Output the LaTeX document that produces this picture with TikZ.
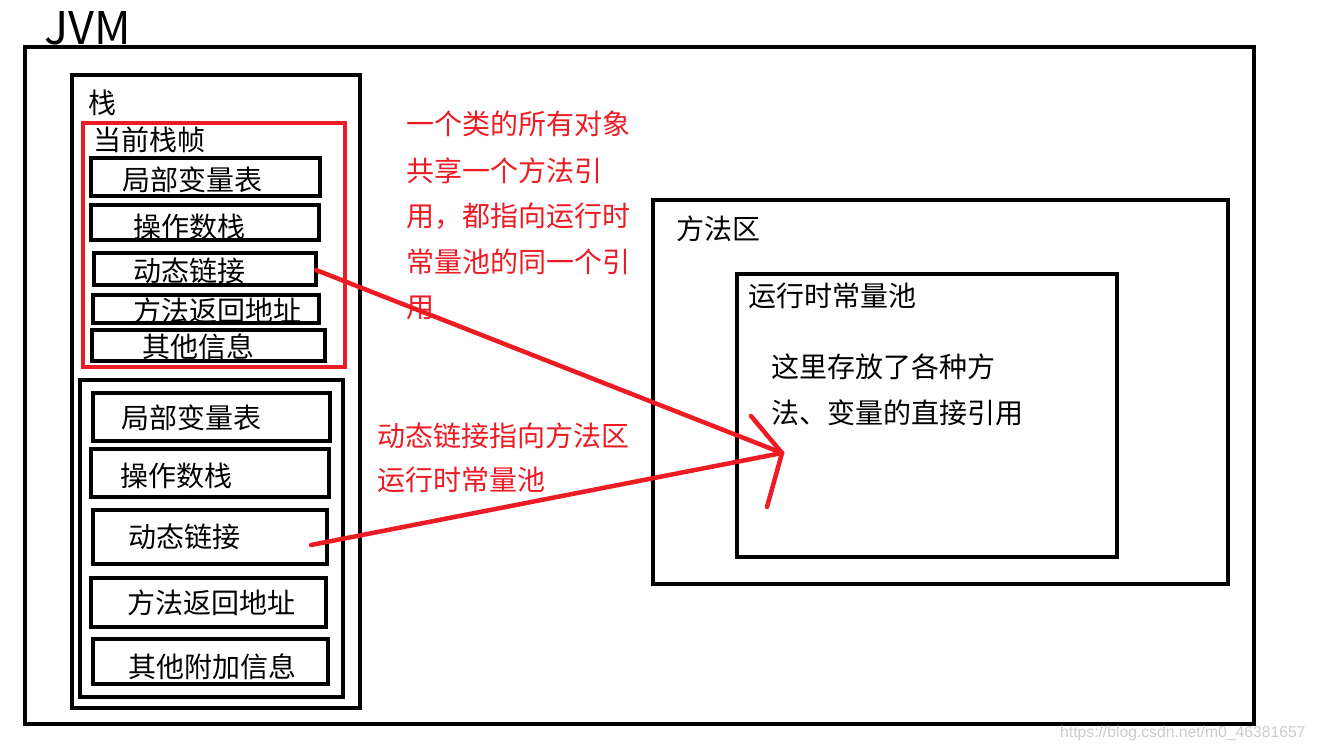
\documentclass[tikz,border=0pt]{standalone}
\usepackage{fontspec}
\setmainfont{Noto Sans CJK SC}
\newfontfamily\wmfont{Liberation Sans}
\definecolor{pred}{HTML}{ED1C24}
\begin{document}
\begin{tikzpicture}[x=1pt,y=-1pt,
  box/.style={draw=black, line width=4pt, inner sep=0pt, outer sep=0pt, anchor=north west},
  redbox/.style={box, draw=pred},
  lbl/.style={anchor=west, inner sep=0pt, font=\fontsize{28}{30}\selectfont},
  note/.style={lbl, text=pred},
  conn/.style={draw=pred, line width=4.5pt, line cap=round}]
\useasboundingbox (0,0) rectangle (1317,751);
\fill[white] (0,0) rectangle (1317,751);
% outer
\node[box, minimum width=1229pt, minimum height=677pt] (jvm) at (25,47) {};
\node[anchor=base west, inner sep=0pt, font=\fontsize{45}{50}\selectfont] (jvmt) at (44,45) {JVM};
% stack
\node[box, minimum width=288pt, minimum height=633pt] (stack) at (72,75) {};
\node[lbl] (stackt) at (88,103) {栈};
% current frame
\node[redbox, minimum width=262pt, minimum height=244pt] (cur) at (83,123) {};
\node[lbl] (curt) at (93,140) {当前栈帧};
\node[box, minimum width=229pt, minimum height=38pt] (c1) at (91,158) {};
\node[box, minimum width=228pt, minimum height=35pt] (c2) at (91,205) {};
\node[box, minimum width=222pt, minimum height=32pt] (c3) at (94,253) {};
\node[box, minimum width=226pt, minimum height=28pt] (c4) at (93,295) {};
\node[box, minimum width=233pt, minimum height=31pt] (c5) at (92,330) {};
\node[lbl] (c1t) at (122,180) {局部变量表};
\node[lbl] (c2t) at (133,227) {操作数栈};
\node[lbl] (c3t) at (133,271) {动态链接};
\node[lbl] (c4t) at (133,311) {方法返回地址};
\node[lbl] (c5t) at (142,347) {其他信息};
% second frame
\node[box, minimum width=263pt, minimum height=317pt] (fr2) at (80,380) {};
\node[box, minimum width=237pt, minimum height=48pt] (f1) at (93,393) {};
\node[box, minimum width=238pt, minimum height=48pt] (f2) at (91,449) {};
\node[box, minimum width=234pt, minimum height=54pt] (f3) at (93,510) {};
\node[box, minimum width=235pt, minimum height=49pt] (f4) at (91,578) {};
\node[box, minimum width=235pt, minimum height=45pt] (f5) at (93,639) {};
\node[lbl] (f1t) at (121,418) {局部变量表};
\node[lbl] (f2t) at (120,476) {操作数栈};
\node[lbl] (f3t) at (128,537) {动态链接};
\node[lbl] (f4t) at (127,603) {方法返回地址};
\node[lbl] (f5t) at (128,667) {其他附加信息};
% method area
\node[box, minimum width=575pt, minimum height=384pt] (ma) at (653,200) {};
\node[lbl] (mat) at (676,229) {方法区};
\node[box, minimum width=380pt, minimum height=283pt] (pool) at (737,274) {};
\node[lbl] (poolt) at (748,296) {运行时常量池};
\node[lbl] (poola) at (771,367) {这里存放了各种方};
\node[lbl] (poolb) at (771,413) {法、变量的直接引用};
% red notes
\node[note] (n1) at (406,124) {一个类的所有对象};
\node[note] (n2) at (406,171) {共享一个方法引};
\node[note] (n3) at (406,216) {用，都指向运行时};
\node[note] (n4) at (406,262) {常量池的同一个引};
\node[note] (n5) at (406,308) {用};
\node[note] (m1) at (377,436) {动态链接指向方法区};
\node[note] (m2) at (377,480) {运行时常量池};
% connectors
\coordinate (s1) at (316,270);
\coordinate (s2) at (311,545);
\coordinate (tip) at (782,453);
\coordinate (h1) at (751,416);
\coordinate (h2) at (767,507);
\draw[conn] (s1) -- (tip);
\draw[conn] (s2) -- (tip);
\draw[conn] (h1) -- (tip) -- (h2);
% watermark
\node[anchor=west, inner sep=0pt, text=black!20, font=\wmfont\fontsize{15.7}{16}\selectfont] (wm) at (1060,733) {https://blog.csdn.net/m0\_46381657};
\end{tikzpicture}
\end{document}
